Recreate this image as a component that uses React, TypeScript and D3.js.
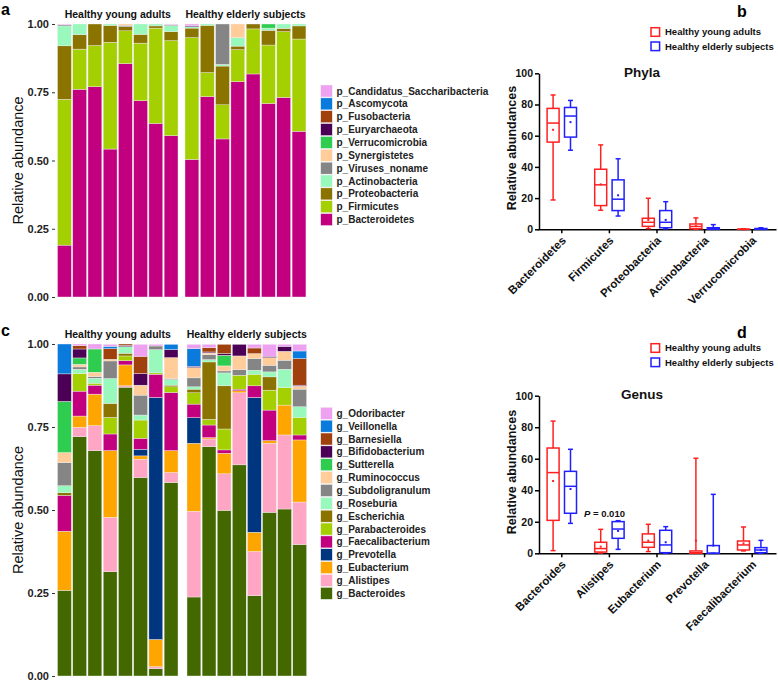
import { useEffect, useRef } from 'react';
import { select, scaleBand, scaleLinear, axisLeft, axisBottom, stack, format } from 'd3';

const FONT = '"Liberation Sans", Arial, Helvetica, sans-serif';

const youngIds = ['Y1', 'Y2', 'Y3', 'Y4', 'Y5', 'Y6', 'Y7', 'Y8'];
const elderlyIds = ['E1', 'E2', 'E3', 'E4', 'E5', 'E6', 'E7', 'E8'];
const sampleIds = [...youngIds, ...elderlyIds];
const groupTitles = ['Healthy young adults', 'Healthy elderly subjects'];

// Panel a: phyla, bottom of stack first. 8 young samples then 8 elderly samples
const phylaNames = ['p_Bacteroidetes', 'p_Firmicutes', 'p_Proteobacteria', 'p_Actinobacteria', 'p_Viruses_noname', 'p_Synergistetes', 'p_Verrucomicrobia', 'p_Euryarchaeota', 'p_Fusobacteria', 'p_Ascomycota', 'p_Candidatus_Saccharibacteria'];
const phylaColors = ['#c2007f', '#a4cf00', '#8b7300', '#99f8bc', '#858585', '#ffcc9a', '#2ecc4f', '#4b0055', '#a0410d', '#0a7bdd', '#eea1f0'];
const pBacteroidetes = [0.190, 0.761, 0.770, 0.542, 0.855, 0.719, 0.636, 0.591, 0.504, 0.734, 0.579, 0.789, 0.817, 0.709, 0.731, 0.607];
const pFirmicutes = [0.534, 0.147, 0.151, 0.391, 0.120, 0.211, 0.349, 0.348, 0.446, 0.088, 0.125, 0.117, 0.165, 0.214, 0.241, 0.338];
const pProteobacteria = [0.196, 0.053, 0.079, 0.062, 0.015, 0.032, 0.008, 0.033, 0.035, 0.173, 0.142, 0.013, 0.018, 0.054, 0.012, 0.048];
const pActinobacteria = [0.073, 0.039, 0, 0.005, 0, 0.038, 0.007, 0.022, 0.005, 0.005, 0.006, 0.031, 0, 0.008, 0.016, 0.007];
const pViruses = [0.004, 0, 0, 0, 0.005, 0, 0, 0.003, 0, 0, 0.148, 0, 0, 0, 0, 0];
const pSynergistetes = [0, 0, 0, 0, 0.005, 0, 0, 0, 0, 0, 0, 0.050, 0, 0, 0, 0];
const pVerrucomicrobia = [0, 0, 0, 0, 0, 0, 0, 0, 0, 0, 0, 0, 0, 0.015, 0, 0];
const pEuryarchaeota = [0, 0, 0, 0, 0, 0, 0, 0, 0.004, 0, 0, 0, 0, 0, 0, 0];
const pFusobacteria = [0, 0, 0, 0, 0, 0, 0, 0, 0, 0, 0, 0, 0, 0, 0, 0];
const pAscomycota = [0, 0, 0, 0, 0, 0, 0, 0, 0, 0, 0, 0, 0, 0, 0, 0];
const pCandidatus = [0.003, 0, 0, 0, 0, 0, 0, 0.003, 0.006, 0, 0, 0, 0, 0, 0, 0];

// Panel c: genera, bottom of stack first
const genusNames = ['g_Bacteroides', 'g_Alistipes', 'g_Eubacterium', 'g_Prevotella', 'g_Faecalibacterium', 'g_Parabacteroides', 'g_Escherichia', 'g_Roseburia', 'g_Subdoligranulum', 'g_Ruminococcus', 'g_Sutterella', 'g_Bifidobacterium', 'g_Barnesiella', 'g_Veillonella', 'g_Odoribacter'];
const genusColors = ['#436800', '#ffa6c4', '#ffa500', '#003580', '#c2007f', '#a4cf00', '#8b7300', '#99f8bc', '#858585', '#ffcc9a', '#2ecc4f', '#4b0055', '#a0410d', '#0a7bdd', '#eea1f0'];
const gBacteroides = [0.258, 0.721, 0.679, 0.314, 0.870, 0.598, 0.022, 0.583, 0.238, 0.691, 0.499, 0.636, 0.242, 0.493, 0.503, 0.396];
const gAlistipes = [0, 0.028, 0.075, 0.164, 0.004, 0.055, 0.006, 0.030, 0.258, 0.023, 0.110, 0.217, 0.133, 0.208, 0.223, 0.128];
const gEubacterium = [0.178, 0.034, 0.095, 0.201, 0.063, 0.010, 0.082, 0.066, 0.205, 0.004, 0.062, 0.006, 0.058, 0.008, 0.090, 0.187];
const gPrevotella = [0, 0, 0, 0, 0, 0.020, 0.729, 0, 0.077, 0, 0, 0, 0.406, 0, 0, 0];
const gFaecalibacterium = [0.108, 0.075, 0.027, 0.050, 0.013, 0.033, 0.070, 0.175, 0.041, 0.038, 0.010, 0.005, 0.035, 0.092, 0, 0.015];
const gParabacteroides = [0, 0.053, 0.006, 0.050, 0.014, 0.055, 0.004, 0.017, 0.034, 0.017, 0.063, 0.042, 0.035, 0.060, 0.053, 0.053];
const gEscherichia = [0.008, 0, 0, 0.042, 0.008, 0, 0, 0.005, 0.011, 0.173, 0.130, 0, 0, 0.040, 0, 0];
const gRoseburia = [0.021, 0.013, 0.015, 0.075, 0.020, 0.015, 0.070, 0.017, 0.007, 0.007, 0.039, 0, 0.012, 0.015, 0.055, 0.032];
const gSubdoligranulum = [0.070, 0.007, 0.005, 0.053, 0, 0.060, 0.011, 0.003, 0.027, 0.015, 0.006, 0.017, 0.035, 0.020, 0.027, 0.053];
const gRuminococcus = [0.030, 0.008, 0.013, 0.005, 0, 0.030, 0, 0.063, 0.031, 0.005, 0.015, 0.041, 0.015, 0.023, 0.027, 0.009];
const gSutterella = [0.154, 0.019, 0.070, 0, 0, 0, 0, 0, 0, 0, 0.032, 0, 0, 0, 0, 0];
const gBifidobacterium = [0.083, 0.027, 0, 0, 0.004, 0.035, 0, 0.024, 0.004, 0.003, 0.005, 0.035, 0, 0.004, 0.015, 0.003];
const gBarnesiella = [0, 0.010, 0, 0.032, 0.004, 0.052, 0, 0, 0, 0.013, 0.028, 0, 0.017, 0, 0, 0.080];
const gVeillonella = [0.090, 0, 0, 0.007, 0, 0, 0, 0.016, 0.053, 0, 0, 0, 0, 0, 0, 0.023];
const gOdoribacter = [0, 0.005, 0.015, 0.006, 0, 0.036, 0.005, 0, 0.013, 0.010, 0, 0, 0.011, 0.036, 0.006, 0.020];

// Panels b and d: [min, q1, median, q3, max, mean] in %
const phylaCats = ['Bacteroidetes', 'Firmicutes', 'Proteobacteria', 'Actinobacteria', 'Verrucomicrobia'];
const phylaYoung = [[18.8, 55.9, 68.1, 77.5, 86.1, 63.8], [12.2, 15.2, 28.5, 38.5, 54.1, 28.8], [0.4, 1.9, 4.5, 7.1, 19.9, 6.0], [0, 0.3, 1.8, 3.4, 7.3, 2.1], [0, 0, 0, 0.1, 0.3, 0.05]];
const phylaElderly = [[50.7, 59.1, 72.6, 78.1, 82.6, 68.7], [8.5, 12.0, 19.3, 31.7, 45.2, 21.8], [0.3, 1.0, 4.5, 12.0, 17.7, 6.0], [0, 0, 0.5, 1.0, 3.0, 0.7], [0, 0, 0.1, 0.5, 1.0, 0.3]];
const genusCats = ['Bacteroides', 'Alistipes', 'Eubacterium', 'Prevotella', 'Faecalibacterium'];
const genusYoung = [[1.7, 20.9, 51.2, 66.8, 83.9, 45.9], [0.2, 0.8, 3.0, 7.0, 15.2, 4.2], [1.1, 3.8, 7.0, 12.3, 18.4, 8.0], [0, 0, 0.4, 1.5, 60.3, 8.0], [1.5, 2.1, 5.3, 7.8, 16.7, 6.3]];
const genusElderly = [[19.0, 25.4, 42.5, 52.0, 66.0, 40.8], [2.5, 9.5, 15.4, 20.1, 20.7, 14.2], [0, 0.4, 5.3, 14.6, 16.9, 7.0], [0, 0, 0, 4.9, 37.4, 4.9], [0, 0.4, 2.1, 3.6, 8.2, 2.1]];
const boxTicks = [0, 20, 40, 60, 80, 100];
const stackTicks = [0, 0.25, 0.5, 0.75, 1];

const RED = '#ff2020';
const BLUE = '#2020ff';

function drawStack(svg, cfg) {
    const { keys, colors, series, y0, y1, elderRange, titleY, letterY, legendTop } = cfg;
    const rows = sampleIds.map((id, i) => {
        const r = { id };
        keys.forEach((k, j) => { r[k] = series[j][i]; });
        return r;
    });
    const layers = stack().keys(keys)(rows);
    const y = scaleLinear().domain([0, 1]).range([y0, y1]);
    const xY = scaleBand().domain(youngIds).range([57.5, 178]).paddingInner(0.09);
    const xE = scaleBand().domain(elderlyIds).range(elderRange).paddingInner(0.09);
    const xOf = (id) => (id[0] === 'Y' ? xY(id) : xE(id));

    const g = svg.append('g');
    layers.forEach((layer, j) => {
        g.selectAll(null)
            .data(layer.filter(d => d[1] - d[0] > 0))
            .enter().append('rect')
            .attr('x', d => xOf(d.data.id))
            .attr('width', xY.bandwidth())
            .attr('y', d => y(d[1]))
            .attr('height', d => y(d[0]) - y(d[1]))
            .attr('fill', colors[j])
            .attr('stroke', '#efefef')
            .attr('stroke-width', 0.4);
    });

    // facet titles
    [[57.5, 178], elderRange].forEach((r, i) => {
        svg.append('text')
            .attr('x', (r[0] + r[1]) / 2)
            .attr('y', titleY)
            .attr('text-anchor', 'middle')
            .attr('font-family', FONT)
            .attr('font-weight', 'bold')
            .attr('font-size', 10.5)
            .attr('fill', '#111')
            .text(groupTitles[i]);
    });

    const ax = svg.append('g')
        .attr('transform', 'translate(55,0)')
        .call(axisLeft(y).tickValues(stackTicks).tickFormat(format('.2f')).tickSize(3).tickPadding(3));
    ax.select('.domain').remove();
    ax.selectAll('line').attr('stroke', '#333');
    ax.selectAll('text')
        .attr('font-family', FONT)
        .attr('font-weight', 'bold')
        .attr('font-size', 11)
        .attr('fill', '#222');

    svg.append('text')
        .attr('transform', `translate(23,${(y0 + y1) / 2}) rotate(-90)`)
        .attr('text-anchor', 'middle')
        .attr('font-family', FONT)
        .attr('font-size', 14.5)
        .attr('fill', '#111')
        .text('Relative abundance');

    svg.append('text')
        .attr('x', 1)
        .attr('y', letterY)
        .attr('font-family', FONT)
        .attr('font-weight', 'bold')
        .attr('font-size', 16)
        .text(cfg.letter);

    // legend, top entry is last stacked key
    const order = keys.slice().reverse();
    const cols = colors.slice().reverse();
    order.forEach((k, i) => {
        const cy = legendTop + i * 12.86;
        svg.append('rect')
            .attr('x', 320.7).attr('y', cy - 6)
            .attr('width', 11.6).attr('height', 12)
            .attr('fill', cols[i])
            .attr('stroke', '#f4f4f4').attr('stroke-width', 0.5);
        svg.append('text')
            .attr('x', 336.5).attr('y', cy)
            .attr('dy', '0.35em')
            .attr('font-family', FONT)
            .attr('font-weight', 'bold')
            .attr('font-size', 10)
            .attr('fill', '#222')
            .text(k);
    });
}

function drawBoxes(svg, cfg) {
    const { cats, young, elderly, y0, y100, title, titleY, legendY, letter, letterY, axisTitleY } = cfg;
    const x = scaleBand().domain(cats).range([538, 776]);
    const y = scaleLinear().domain([0, 100]).range([y0, y100]);
    const cx = (c) => x(c) + x.bandwidth() / 2;

    const ay = svg.append('g')
        .attr('transform', 'translate(539,0)')
        .call(axisLeft(y).tickValues(boxTicks).tickSize(4).tickPadding(2).tickSizeOuter(0));
    ay.selectAll('line').attr('stroke-width', 1.5);
    ay.select('.domain').attr('stroke-width', 1.5);
    ay.selectAll('text').attr('font-family', FONT).attr('font-weight', 'bold').attr('font-size', 10.5).attr('fill', '#111');

    const axb = svg.append('g')
        .attr('transform', `translate(0,${y0})`)
        .call(axisBottom(x).tickSize(4).tickSizeOuter(0).tickFormat(() => ''));
    axb.selectAll('line').attr('stroke-width', 1.5);
    axb.select('.domain').attr('stroke-width', 1.5);

    cats.forEach((c) => {
        svg.append('text')
            .attr('transform', `translate(${cx(c) + 2},${y0 + 9}) rotate(-45)`)
            .attr('text-anchor', 'end')
            .attr('dy', '0.35em')
            .attr('font-family', FONT)
            .attr('font-weight', 'bold')
            .attr('font-size', 11.5)
            .attr('fill', '#111')
            .text(c);
    });

    const groups = [[young, RED, -8.7], [elderly, BLUE, 8.7]];
    groups.forEach(([data, color, off]) => {
        data.forEach((s, i) => {
            const [mn, q1, md, q3, mx, mean] = s;
            const c = cx(cats[i]) + off;
            const g = svg.append('g').attr('stroke', color).attr('stroke-width', 1.5).attr('fill', 'none');
            g.append('line').attr('x1', c).attr('x2', c).attr('y1', y(mn)).attr('y2', y(q1));
            g.append('line').attr('x1', c).attr('x2', c).attr('y1', y(q3)).attr('y2', y(mx));
            g.append('line').attr('x1', c - 2.5).attr('x2', c + 2.5).attr('y1', y(mn)).attr('y2', y(mn));
            g.append('line').attr('x1', c - 2.5).attr('x2', c + 2.5).attr('y1', y(mx)).attr('y2', y(mx));
            g.append('rect').attr('x', c - 6).attr('width', 12).attr('y', y(q3)).attr('height', Math.max(0, y(q1) - y(q3)));
            g.append('line').attr('x1', c - 6).attr('x2', c + 6).attr('y1', y(md)).attr('y2', y(md));
            svg.append('rect').attr('x', c - 1).attr('y', y(mean) - 1).attr('width', 2).attr('height', 2).attr('fill', color);
        });
    });

    svg.append('text')
        .attr('x', 642).attr('y', titleY)
        .attr('text-anchor', 'middle')
        .attr('font-family', FONT).attr('font-weight', 'bold').attr('font-size', 13.5)
        .attr('fill', '#111')
        .text(title);

    svg.append('text')
        .attr('transform', `translate(516,${axisTitleY}) rotate(-90)`)
        .attr('text-anchor', 'middle')
        .attr('font-family', FONT).attr('font-weight', 'bold').attr('font-size', 12.5)
        .attr('fill', '#111')
        .text('Relative abundances');

    groupTitles.forEach((t, i) => {
        const cy = legendY + i * 14.3;
        svg.append('rect')
            .attr('x', 651).attr('y', cy - 4.3).attr('width', 8.6).attr('height', 8.6)
            .attr('fill', 'none').attr('stroke', i === 0 ? RED : BLUE).attr('stroke-width', 1.5);
        svg.append('text')
            .attr('x', 665).attr('y', cy).attr('dy', '0.35em')
            .attr('font-family', FONT).attr('font-weight', 'bold').attr('font-size', 9.5)
            .attr('fill', '#111')
            .text(t);
    });

    svg.append('text')
        .attr('x', 737).attr('y', letterY)
        .attr('font-family', FONT).attr('font-weight', 'bold').attr('font-size', 16)
        .text(letter);
}

const App = () => {
    const svgRef = useRef(null);

    useEffect(() => {
        const svg = select(svgRef.current);
        svg.selectAll('*').remove();
        svg.append('rect').attr('width', 778).attr('height', 681).attr('fill', '#fff');

        drawStack(svg, {
            keys: phylaNames,
            colors: phylaColors,
            series: [pBacteroidetes, pFirmicutes, pProteobacteria, pActinobacteria, pViruses, pSynergistetes, pVerrucomicrobia, pEuryarchaeota, pFusobacteria, pAscomycota, pCandidatus],
            y0: 297, y1: 24,
            elderRange: [185, 306],
            titleY: 18, letter: 'a', letterY: 15, legendTop: 91
        });

        drawStack(svg, {
            keys: genusNames,
            colors: genusColors,
            series: [gBacteroides, gAlistipes, gEubacterium, gPrevotella, gFaecalibacterium, gParabacteroides, gEscherichia, gRoseburia, gSubdoligranulum, gRuminococcus, gSutterella, gBifidobacterium, gBarnesiella, gVeillonella, gOdoribacter],
            y0: 676, y1: 344,
            elderRange: [187, 306.5],
            titleY: 338, letter: 'c', letterY: 336, legendTop: 413.3
        });

        drawBoxes(svg, {
            cats: phylaCats, young: phylaYoung, elderly: phylaElderly,
            y0: 229.3, y100: 73.3, title: 'Phyla', titleY: 77,
            legendY: 32, letter: 'b', letterY: 17, axisTitleY: 148
        });

        drawBoxes(svg, {
            cats: genusCats, young: genusYoung, elderly: genusElderly,
            y0: 553.3, y100: 395.7, title: 'Genus', titleY: 399,
            legendY: 348, letter: 'd', letterY: 338, axisTitleY: 472
        });

        // significance label in panel d
        const p = svg.append('text')
            .attr('x', 584).attr('y', 517)
            .attr('font-family', FONT).attr('font-weight', 'bold').attr('font-size', 9.5)
            .attr('fill', '#111');
        p.append('tspan').attr('font-style', 'italic').text('P');
        p.append('tspan').text(' = 0.010');
    }, []);

    return (
        <div>
            <svg ref={svgRef} width={778} height={681} style={{ position: 'absolute', left: 0, top: 0 }} />
        </div>
    );
};

export default App;
